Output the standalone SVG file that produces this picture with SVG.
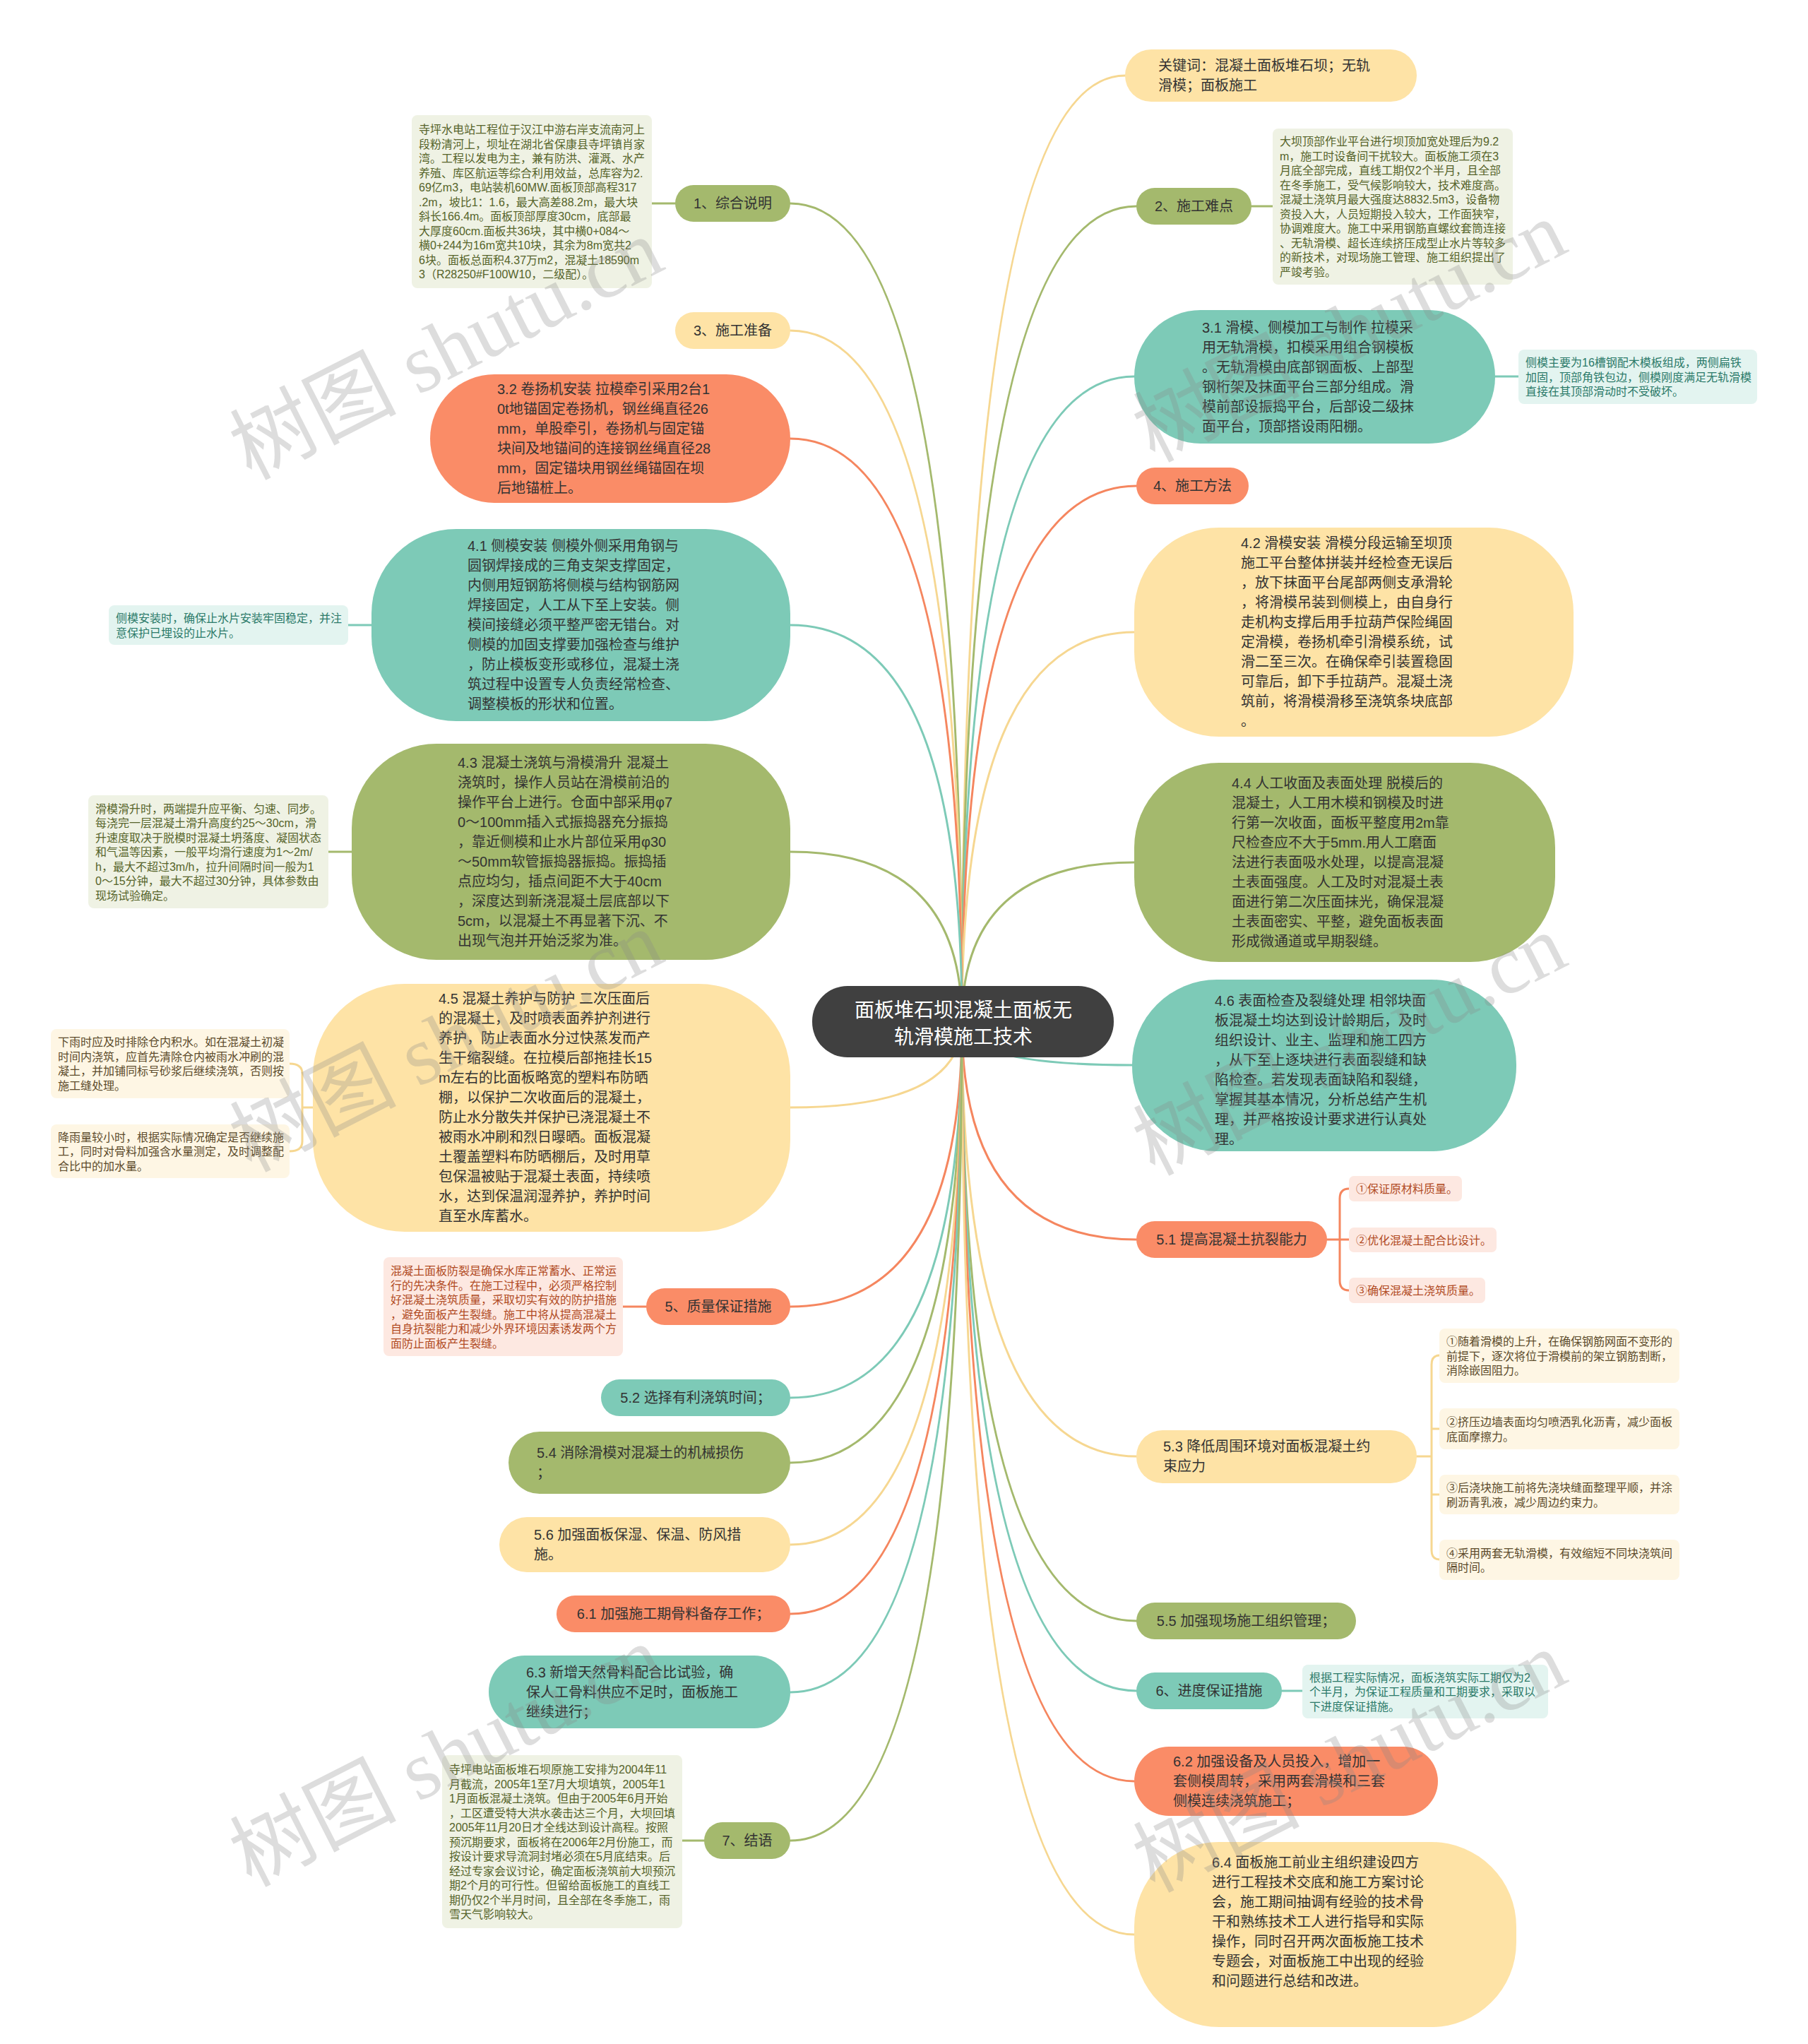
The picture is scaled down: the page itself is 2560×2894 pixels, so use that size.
<svg xmlns="http://www.w3.org/2000/svg" width="2560" height="2894" viewBox="0 0 2560 2894">
<style>
.bg{fill:#ffffff}
.c-olive{fill:#a4b96d}.c-yellow{fill:#fee3a6}.c-teal{fill:#7dcab7}.c-salmon{fill:#fa8c67}
.ln{fill:none;stroke-width:3;stroke-linecap:round}
.l-olive{stroke:#a4b96d}.l-yellow{stroke:#f6d791}.l-teal{stroke:#7dcab7}.l-salmon{stroke:#f5865f}
.t{font-family:"Liberation Sans","Noto Sans CJK SC",sans-serif;font-size:20px;fill:#333333}
.m{text-anchor:middle}
.ns{font-family:"Liberation Sans","Noto Sans CJK SC",sans-serif;font-size:16px}
.nb-olive{fill:#eff2e4}.nb-teal{fill:#e3f4f0}.nb-salmon{fill:#fde8e1}.nb-yellow{fill:#fef6e4}
.nt-olive{fill:#56642a}.nt-teal{fill:#2b7a69}.nt-salmon{fill:#b14b24}.nt-yellow{fill:#5c4b2b}
.wm{font-family:"Liberation Serif","Noto Sans CJK SC",serif;font-size:118px;fill:#888888;opacity:0.28;text-anchor:middle}
.center{fill:#404040}
.ct{font-family:"Liberation Sans","Noto Sans CJK SC",sans-serif;font-size:28px;fill:#ffffff;text-anchor:middle}
</style>
<rect class="bg" x="0" y="0" width="2560" height="2894"/>

<g id="connectors">
<path class="ln l-yellow" d="M1362 1447 Q1362 107 1593 107"/>
<path class="ln l-olive" d="M1362 1447 Q1362 292 1609 292"/>
<path class="ln l-teal" d="M1362 1447 Q1362 533 1606 533"/>
<path class="ln l-salmon" d="M1362 1447 Q1362 688 1609 688"/>
<path class="ln l-yellow" d="M1362 1447 Q1362 895 1606 895"/>
<path class="ln l-olive" d="M1362 1447 Q1362 1221 1606 1221"/>
<path class="ln l-teal" d="M1362 1447 Q1362 1508 1603 1508"/>
<path class="ln l-salmon" d="M1362 1447 Q1362 1755 1609 1755"/>
<path class="ln l-yellow" d="M1362 1447 Q1362 2062 1609 2062"/>
<path class="ln l-olive" d="M1362 1447 Q1362 2295 1609 2295"/>
<path class="ln l-teal" d="M1362 1447 Q1362 2394 1609 2394"/>
<path class="ln l-salmon" d="M1362 1447 Q1362 2522 1606 2522"/>
<path class="ln l-yellow" d="M1362 1447 Q1362 2739 1606 2739"/>
<path class="ln l-olive" d="M1362 1447 Q1362 288 1119 288"/>
<path class="ln l-yellow" d="M1362 1447 Q1362 468 1119 468"/>
<path class="ln l-salmon" d="M1362 1447 Q1362 621 1119 621"/>
<path class="ln l-teal" d="M1362 1447 Q1362 885 1119 885"/>
<path class="ln l-olive" d="M1362 1447 Q1362 1206 1119 1206"/>
<path class="ln l-yellow" d="M1362 1447 Q1362 1568 1119 1568"/>
<path class="ln l-salmon" d="M1362 1447 Q1362 1850 1119 1850"/>
<path class="ln l-teal" d="M1362 1447 Q1362 1979 1119 1979"/>
<path class="ln l-olive" d="M1362 1447 Q1362 2071 1119 2071"/>
<path class="ln l-yellow" d="M1362 1447 Q1362 2187 1119 2187"/>
<path class="ln l-salmon" d="M1362 1447 Q1362 2285 1119 2285"/>
<path class="ln l-teal" d="M1362 1447 Q1362 2396 1119 2396"/>
<path class="ln l-olive" d="M1362 1447 Q1362 2606 1119 2606"/>
<path class="ln l-olive" d="M956 288 H923"/>
<path class="ln l-olive" d="M1772 292 H1802"/>
<path class="ln l-teal" d="M2117 533 H2150"/>
<path class="ln l-teal" d="M526 885 H493"/>
<path class="ln l-olive" d="M498 1206 H465"/>
<path class="ln l-salmon" d="M915 1850 H882"/>
<path class="ln l-teal" d="M1815 2394 H1844"/>
<path class="ln l-olive" d="M997 2606 H966"/>
<path class="ln l-yellow" d="M443 1568 H428 M410 1506 Q428 1506 428 1520 V1616 Q428 1630 410 1630"/>
<path class="ln l-salmon" d="M1879 1755 H1910 M1910 1683 Q1897 1683 1897 1697 V1813 Q1897 1827 1910 1827"/>
<path class="ln l-yellow" d="M2006 2062 H2027 M2038 1919 Q2027 1919 2027 1932 V2195 Q2027 2208 2038 2208 M2027 2023 H2038 M2027 2116 H2038"/>
</g>

<g id="center">
<rect class="center" x="1150" y="1396" width="427" height="101" rx="50"/>
<text class="ct"><tspan x="1364" y="1440">面板堆石坝混凝土面板无</tspan><tspan x="1364" y="1478">轨滑模施工技术</tspan></text>
</g>

<g id="n-keywords">
<rect class="c-yellow" x="1593" y="70" width="413" height="74" rx="37"/>
<text class="t"><tspan x="1640" y="100">关键词：混凝土面板堆石坝；无轨</tspan><tspan x="1640" y="128">滑模；面板施工</tspan></text>
</g>

<g id="n-2">
<rect class="c-olive" x="1609" y="266" width="163" height="52" rx="26"/>
<text class="t m" x="1690.5" y="299">2、施工难点</text>
</g>
<g id="note-2">
<rect class="nb-olive" x="1802" y="182" width="340" height="221" rx="8"/>
<text class="ns nt-olive"><tspan x="1812" y="206">大坝顶部作业平台进行坝顶加宽处理后为9.2</tspan><tspan x="1812" y="226.5">m，施工时设备间干扰较大。面板施工须在3</tspan><tspan x="1812" y="247">月底全部完成，直线工期仅2个半月，且全部</tspan><tspan x="1812" y="267.5">在冬季施工，受气候影响较大，技术难度高。</tspan><tspan x="1812" y="288">混凝土浇筑月最大强度达8832.5m3，设备物</tspan><tspan x="1812" y="308.5">资投入大，人员短期投入较大，工作面狭窄，</tspan><tspan x="1812" y="329">协调难度大。施工中采用钢筋直螺纹套筒连接</tspan><tspan x="1812" y="349.5">、无轨滑模、超长连续挤压成型止水片等较多</tspan><tspan x="1812" y="370">的新技术，对现场施工管理、施工组织提出了</tspan><tspan x="1812" y="390.5">严竣考验。</tspan></text>
</g>

<g id="n-3-1">
<rect class="c-teal" x="1606" y="439" width="511" height="189" rx="94"/>
<text class="t"><tspan x="1702" y="470.5">3.1 滑模、侧模加工与制作 拉模采</tspan><tspan x="1702" y="498.5">用无轨滑模，扣模采用组合钢模板</tspan><tspan x="1702" y="526.5">。无轨滑模由底部钢面板、上部型</tspan><tspan x="1702" y="554.5">钢桁架及抹面平台三部分组成。滑</tspan><tspan x="1702" y="582.5">模前部设振捣平台，后部设二级抹</tspan><tspan x="1702" y="610.5">面平台，顶部搭设雨阳棚。</tspan></text>
</g>
<g id="note-3-1">
<rect class="nb-teal" x="2150" y="495" width="338" height="77" rx="8"/>
<text class="ns nt-teal"><tspan x="2160" y="519">侧模主要为16槽钢配木模板组成，两侧扁铁</tspan><tspan x="2160" y="539.5">加固，顶部角铁包边，侧模刚度满足无轨滑模</tspan><tspan x="2160" y="560">直接在其顶部滑动时不受破坏。</tspan></text>
</g>

<g id="n-4">
<rect class="c-salmon" x="1609" y="662" width="159" height="52" rx="26"/>
<text class="t m" x="1688.5" y="695">4、施工方法</text>
</g>

<g id="n-4-2">
<rect class="c-yellow" x="1606" y="747" width="622" height="296" rx="120"/>
<text class="t"><tspan x="1757" y="776">4.2 滑模安装 滑模分段运输至坝顶</tspan><tspan x="1757" y="804">施工平台整体拼装并经检查无误后</tspan><tspan x="1757" y="832">，放下抹面平台尾部两侧支承滑轮</tspan><tspan x="1757" y="860">，将滑模吊装到侧模上，由自身行</tspan><tspan x="1757" y="888">走机构支撑后用手拉葫芦保险绳固</tspan><tspan x="1757" y="916">定滑模，卷扬机牵引滑模系统，试</tspan><tspan x="1757" y="944">滑二至三次。在确保牵引装置稳固</tspan><tspan x="1757" y="972">可靠后，卸下手拉葫芦。混凝土浇</tspan><tspan x="1757" y="1000">筑前，将滑模滑移至浇筑条块底部</tspan><tspan x="1757" y="1028">。</tspan></text>
</g>

<g id="n-4-4">
<rect class="c-olive" x="1606" y="1080" width="596" height="282" rx="120"/>
<text class="t"><tspan x="1744" y="1116">4.4 人工收面及表面处理 脱模后的</tspan><tspan x="1744" y="1144">混凝土，人工用木模和钢模及时进</tspan><tspan x="1744" y="1172">行第一次收面，面板平整度用2m靠</tspan><tspan x="1744" y="1200">尺检查应不大于5mm.用人工磨面</tspan><tspan x="1744" y="1228">法进行表面吸水处理，以提高混凝</tspan><tspan x="1744" y="1256">土表面强度。人工及时对混凝土表</tspan><tspan x="1744" y="1284">面进行第二次压面抹光，确保混凝</tspan><tspan x="1744" y="1312">土表面密实、平整，避免面板表面</tspan><tspan x="1744" y="1340">形成微通道或早期裂缝。</tspan></text>
</g>

<g id="n-4-6">
<rect class="c-teal" x="1603" y="1387" width="544" height="243" rx="120"/>
<text class="t"><tspan x="1720" y="1424">4.6 表面检查及裂缝处理 相邻块面</tspan><tspan x="1720" y="1452">板混凝土均达到设计龄期后，及时</tspan><tspan x="1720" y="1480">组织设计、业主、监理和施工四方</tspan><tspan x="1720" y="1508">，从下至上逐块进行表面裂缝和缺</tspan><tspan x="1720" y="1536">陷检查。若发现表面缺陷和裂缝，</tspan><tspan x="1720" y="1564">掌握其基本情况，分析总结产生机</tspan><tspan x="1720" y="1592">理，并严格按设计要求进行认真处</tspan><tspan x="1720" y="1620">理。</tspan></text>
</g>

<g id="n-5-1">
<rect class="c-salmon" x="1609" y="1729" width="270" height="52" rx="26"/>
<text class="t m" x="1744" y="1762">5.1 提高混凝土抗裂能力</text>
</g>
<g id="items-5-1">
<rect class="nb-salmon" x="1910" y="1665" width="160" height="36" rx="7"/>
<text class="ns nt-salmon" x="1920" y="1689">①保证原材料质量。</text>
<rect class="nb-salmon" x="1910" y="1738" width="209" height="35" rx="7"/>
<text class="ns nt-salmon" x="1920" y="1761.5">②优化混凝土配合比设计。</text>
<rect class="nb-salmon" x="1910" y="1809" width="193" height="36" rx="7"/>
<text class="ns nt-salmon" x="1920" y="1833">③确保混凝土浇筑质量。</text>
</g>

<g id="n-5-3">
<rect class="c-yellow" x="1609" y="2025" width="397" height="75" rx="37"/>
<text class="t"><tspan x="1647" y="2055">5.3 降低周围环境对面板混凝土约</tspan><tspan x="1647" y="2083">束应力</tspan></text>
</g>
<g id="items-5-3">
<rect class="nb-yellow" x="2038" y="1881" width="340" height="77" rx="8"/>
<text class="ns nt-yellow"><tspan x="2048" y="1905">①随着滑模的上升，在确保钢筋网面不变形的</tspan><tspan x="2048" y="1925.5">前提下，逐次将位于滑模前的架立钢筋割断，</tspan><tspan x="2048" y="1946">消除嵌固阻力。</tspan></text>
<rect class="nb-yellow" x="2038" y="1994" width="340" height="58" rx="8"/>
<text class="ns nt-yellow"><tspan x="2048" y="2019">②挤压边墙表面均匀喷洒乳化沥青，减少面板</tspan><tspan x="2048" y="2039.5">底面摩擦力。</tspan></text>
<rect class="nb-yellow" x="2038" y="2088" width="340" height="56" rx="8"/>
<text class="ns nt-yellow"><tspan x="2048" y="2112">③后浇块施工前将先浇块缝面整理平顺，并涂</tspan><tspan x="2048" y="2132.5">刷沥青乳液，减少周边约束力。</tspan></text>
<rect class="nb-yellow" x="2038" y="2180" width="340" height="57" rx="8"/>
<text class="ns nt-yellow"><tspan x="2048" y="2204.5">④采用两套无轨滑模，有效缩短不同块浇筑间</tspan><tspan x="2048" y="2225">隔时间。</tspan></text>
</g>

<g id="n-5-5">
<rect class="c-olive" x="1609" y="2269" width="311" height="52" rx="26"/>
<text class="t m" x="1764.5" y="2302">5.5 加强现场施工组织管理；</text>
</g>

<g id="n-6">
<rect class="c-teal" x="1609" y="2368" width="206" height="52" rx="26"/>
<text class="t m" x="1712" y="2401">6、进度保证措施</text>
</g>
<g id="note-6">
<rect class="nb-teal" x="1844" y="2357" width="348" height="76" rx="8"/>
<text class="ns nt-teal"><tspan x="1854" y="2380.5">根据工程实际情况，面板浇筑实际工期仅为2</tspan><tspan x="1854" y="2401">个半月，为保证工程质量和工期要求，采取以</tspan><tspan x="1854" y="2421.5">下进度保证措施。</tspan></text>
</g>

<g id="n-6-2">
<rect class="c-salmon" x="1606" y="2473" width="430" height="98" rx="49"/>
<text class="t"><tspan x="1661" y="2501">6.2 加强设备及人员投入，增加一</tspan><tspan x="1661" y="2529">套侧模周转，采用两套滑模和三套</tspan><tspan x="1661" y="2557">侧模连续浇筑施工；</tspan></text>
</g>

<g id="n-6-4">
<rect class="c-yellow" x="1606" y="2608" width="541" height="262" rx="120"/>
<text class="t"><tspan x="1716" y="2644">6.4 面板施工前业主组织建设四方</tspan><tspan x="1716" y="2672">进行工程技术交底和施工方案讨论</tspan><tspan x="1716" y="2700">会，施工期间抽调有经验的技术骨</tspan><tspan x="1716" y="2728">干和熟练技术工人进行指导和实际</tspan><tspan x="1716" y="2756">操作，同时召开两次面板施工技术</tspan><tspan x="1716" y="2784">专题会，对面板施工中出现的经验</tspan><tspan x="1716" y="2812">和问题进行总结和改进。</tspan></text>
</g>

<g id="n-1">
<rect class="c-olive" x="956" y="262" width="163" height="52" rx="26"/>
<text class="t m" x="1037.5" y="295">1、综合说明</text>
</g>
<g id="note-1">
<rect class="nb-olive" x="583" y="163" width="340" height="245" rx="8"/>
<text class="ns nt-olive"><tspan x="593" y="189">寺坪水电站工程位于汉江中游右岸支流南河上</tspan><tspan x="593" y="209.5">段粉清河上，坝址在湖北省保康县寺坪镇肖家</tspan><tspan x="593" y="230">湾。工程以发电为主，兼有防洪、灌溉、水产</tspan><tspan x="593" y="250.5">养殖、库区航运等综合利用效益，总库容为2.</tspan><tspan x="593" y="271">69亿m3，电站装机60MW.面板顶部高程317</tspan><tspan x="593" y="291.5">.2m，坡比1：1.6，最大高差88.2m，最大块</tspan><tspan x="593" y="312">斜长166.4m。面板顶部厚度30cm，底部最</tspan><tspan x="593" y="332.5">大厚度60cm.面板共36块，其中横0+084～</tspan><tspan x="593" y="353">横0+244为16m宽共10块，其余为8m宽共2</tspan><tspan x="593" y="373.5">6块。面板总面积4.37万m2，混凝土18590m</tspan><tspan x="593" y="394">3（R28250#F100W10，二级配）。</tspan></text>
</g>

<g id="n-3">
<rect class="c-yellow" x="956" y="442" width="163" height="52" rx="26"/>
<text class="t m" x="1037.5" y="475">3、施工准备</text>
</g>

<g id="n-3-2">
<rect class="c-salmon" x="609" y="530" width="510" height="182" rx="91"/>
<text class="t"><tspan x="704" y="558">3.2 卷扬机安装 拉模牵引采用2台1</tspan><tspan x="704" y="586">0t地锚固定卷扬机，钢丝绳直径26</tspan><tspan x="704" y="614">mm，单股牵引，卷扬机与固定锚</tspan><tspan x="704" y="642">块间及地锚间的连接钢丝绳直径28</tspan><tspan x="704" y="670">mm，固定锚块用钢丝绳锚固在坝</tspan><tspan x="704" y="698">后地锚桩上。</tspan></text>
</g>

<g id="n-4-1">
<rect class="c-teal" x="526" y="749" width="593" height="272" rx="120"/>
<text class="t"><tspan x="662" y="780">4.1 侧模安装 侧模外侧采用角钢与</tspan><tspan x="662" y="808">圆钢焊接成的三角支架支撑固定，</tspan><tspan x="662" y="836">内侧用短钢筋将侧模与结构钢筋网</tspan><tspan x="662" y="864">焊接固定，人工从下至上安装。侧</tspan><tspan x="662" y="892">模间接缝必须平整严密无错台。对</tspan><tspan x="662" y="920">侧模的加固支撑要加强检查与维护</tspan><tspan x="662" y="948">，防止模板变形或移位，混凝土浇</tspan><tspan x="662" y="976">筑过程中设置专人负责经常检查、</tspan><tspan x="662" y="1004">调整模板的形状和位置。</tspan></text>
</g>
<g id="note-4-1">
<rect class="nb-teal" x="154" y="857" width="339" height="56" rx="8"/>
<text class="ns nt-teal"><tspan x="164" y="881">侧模安装时，确保止水片安装牢固稳定，并注</tspan><tspan x="164" y="901.5">意保护已埋设的止水片。</tspan></text>
</g>

<g id="n-4-3">
<rect class="c-olive" x="498" y="1053" width="621" height="306" rx="120"/>
<text class="t"><tspan x="648" y="1087">4.3 混凝土浇筑与滑模滑升 混凝土</tspan><tspan x="648" y="1115">浇筑时，操作人员站在滑模前沿的</tspan><tspan x="648" y="1143">操作平台上进行。仓面中部采用φ7</tspan><tspan x="648" y="1171">0～100mm插入式振捣器充分振捣</tspan><tspan x="648" y="1199">，靠近侧模和止水片部位采用φ30</tspan><tspan x="648" y="1227">～50mm软管振捣器振捣。振捣插</tspan><tspan x="648" y="1255">点应均匀，插点间距不大于40cm</tspan><tspan x="648" y="1283">，深度达到新浇混凝土层底部以下</tspan><tspan x="648" y="1311">5cm，以混凝土不再显著下沉、不</tspan><tspan x="648" y="1339">出现气泡并开始泛浆为准。</tspan></text>
</g>
<g id="note-4-3">
<rect class="nb-olive" x="125" y="1126" width="340" height="160" rx="8"/>
<text class="ns nt-olive"><tspan x="135" y="1150.5">滑模滑升时，两端提升应平衡、匀速、同步。</tspan><tspan x="135" y="1171">每浇完一层混凝土滑升高度约25～30cm，滑</tspan><tspan x="135" y="1191.5">升速度取决于脱模时混凝土坍落度、凝固状态</tspan><tspan x="135" y="1212">和气温等因素，一般平均滑行速度为1～2m/</tspan><tspan x="135" y="1232.5">h，最大不超过3m/h，拉升间隔时间一般为1</tspan><tspan x="135" y="1253">0～15分钟，最大不超过30分钟，具体参数由</tspan><tspan x="135" y="1273.5">现场试验确定。</tspan></text>
</g>

<g id="n-4-5">
<rect class="c-yellow" x="443" y="1393" width="676" height="351" rx="130"/>
<text class="t"><tspan x="621" y="1421">4.5 混凝土养护与防护 二次压面后</tspan><tspan x="621" y="1449">的混凝土，及时喷表面养护剂进行</tspan><tspan x="621" y="1477">养护，防止表面水分过快蒸发而产</tspan><tspan x="621" y="1505">生干缩裂缝。在拉模后部拖挂长15</tspan><tspan x="621" y="1533">m左右的比面板略宽的塑料布防晒</tspan><tspan x="621" y="1561">棚，以保护二次收面后的混凝土，</tspan><tspan x="621" y="1589">防止水分散失并保护已浇混凝土不</tspan><tspan x="621" y="1617">被雨水冲刷和烈日曝晒。面板混凝</tspan><tspan x="621" y="1645">土覆盖塑料布防晒棚后，及时用草</tspan><tspan x="621" y="1673">包保温被贴于混凝土表面，持续喷</tspan><tspan x="621" y="1701">水，达到保温润湿养护，养护时间</tspan><tspan x="621" y="1729">直至水库蓄水。</tspan></text>
</g>
<g id="notes-4-5">
<rect class="nb-yellow" x="72" y="1457" width="338" height="98" rx="8"/>
<text class="ns nt-yellow"><tspan x="82" y="1481">下雨时应及时排除仓内积水。如在混凝土初凝</tspan><tspan x="82" y="1501.5">时间内浇筑，应首先清除仓内被雨水冲刷的混</tspan><tspan x="82" y="1522">凝土，并加铺同标号砂浆后继续浇筑，否则按</tspan><tspan x="82" y="1542.5">施工缝处理。</tspan></text>
<rect class="nb-yellow" x="72" y="1592" width="338" height="76" rx="8"/>
<text class="ns nt-yellow"><tspan x="82" y="1615.5">降雨量较小时，根据实际情况确定是否继续施</tspan><tspan x="82" y="1636">工，同时对骨料加强含水量测定，及时调整配</tspan><tspan x="82" y="1656.5">合比中的加水量。</tspan></text>
</g>

<g id="n-5">
<rect class="c-salmon" x="915" y="1824" width="204" height="52" rx="26"/>
<text class="t m" x="1017" y="1857">5、质量保证措施</text>
</g>
<g id="note-5">
<rect class="nb-salmon" x="543" y="1780" width="339" height="140" rx="8"/>
<text class="ns nt-salmon"><tspan x="553" y="1805">混凝土面板防裂是确保水库正常蓄水、正常运</tspan><tspan x="553" y="1825.5">行的先决条件。在施工过程中，必须严格控制</tspan><tspan x="553" y="1846">好混凝土浇筑质量，采取切实有效的防护措施</tspan><tspan x="553" y="1866.5">，避免面板产生裂缝。施工中将从提高混凝土</tspan><tspan x="553" y="1887">自身抗裂能力和减少外界环境因素诱发两个方</tspan><tspan x="553" y="1907.5">面防止面板产生裂缝。</tspan></text>
</g>

<g id="n-5-2">
<rect class="c-teal" x="851" y="1953" width="268" height="52" rx="26"/>
<text class="t m" x="985" y="1986">5.2 选择有利浇筑时间；</text>
</g>

<g id="n-5-4">
<rect class="c-olive" x="720" y="2027" width="399" height="88" rx="44"/>
<text class="t"><tspan x="760" y="2064">5.4 消除滑模对混凝土的机械损伤</tspan><tspan x="760" y="2092">；</tspan></text>
</g>

<g id="n-5-6">
<rect class="c-yellow" x="707" y="2148" width="412" height="78" rx="39"/>
<text class="t"><tspan x="756" y="2180">5.6 加强面板保湿、保温、防风措</tspan><tspan x="756" y="2208">施。</tspan></text>
</g>

<g id="n-6-1">
<rect class="c-salmon" x="788" y="2259" width="331" height="52" rx="26"/>
<text class="t m" x="953.5" y="2292">6.1 加强施工期骨料备存工作；</text>
</g>

<g id="n-6-3">
<rect class="c-teal" x="692" y="2344" width="427" height="103" rx="51"/>
<text class="t"><tspan x="745" y="2375">6.3 新增天然骨料配合比试验，确</tspan><tspan x="745" y="2403">保人工骨料供应不足时，面板施工</tspan><tspan x="745" y="2431">继续进行；</tspan></text>
</g>

<g id="n-7">
<rect class="c-olive" x="997" y="2580" width="122" height="52" rx="26"/>
<text class="t m" x="1058" y="2613">7、结语</text>
</g>
<g id="note-7">
<rect class="nb-olive" x="626" y="2485" width="340" height="245" rx="8"/>
<text class="ns nt-olive"><tspan x="636" y="2511">寺坪电站面板堆石坝原施工安排为2004年11</tspan><tspan x="636" y="2531.5">月截流，2005年1至7月大坝填筑，2005年1</tspan><tspan x="636" y="2552">1月面板混凝土浇筑。但由于2005年6月开始</tspan><tspan x="636" y="2572.5">，工区遭受特大洪水袭击达三个月，大坝回填</tspan><tspan x="636" y="2593">2005年11月20日才全线达到设计高程。按照</tspan><tspan x="636" y="2613.5">预沉期要求，面板将在2006年2月份施工，而</tspan><tspan x="636" y="2634">按设计要求导流洞封堵必须在5月底结束。后</tspan><tspan x="636" y="2654.5">经过专家会议讨论，确定面板浇筑前大坝预沉</tspan><tspan x="636" y="2675">期2个月的可行性。但留给面板施工的直线工</tspan><tspan x="636" y="2695.5">期仍仅2个半月时间，且全部在冬季施工，雨</tspan><tspan x="636" y="2716">雪天气影响较大。</tspan></text>
</g>

<g id="watermarks">
<text class="wm" transform="translate(650,530) rotate(-27)">树图 shutu.cn</text>
<text class="wm" transform="translate(1929,505) rotate(-27)">树图 shutu.cn</text>
<text class="wm" transform="translate(650,1510) rotate(-27)">树图 shutu.cn</text>
<text class="wm" transform="translate(1929,1515) rotate(-27)">树图 shutu.cn</text>
<text class="wm" transform="translate(650,2522) rotate(-27)">树图 shutu.cn</text>
<text class="wm" transform="translate(1929,2530) rotate(-27)">树图 shutu.cn</text>
</g>
</svg>
